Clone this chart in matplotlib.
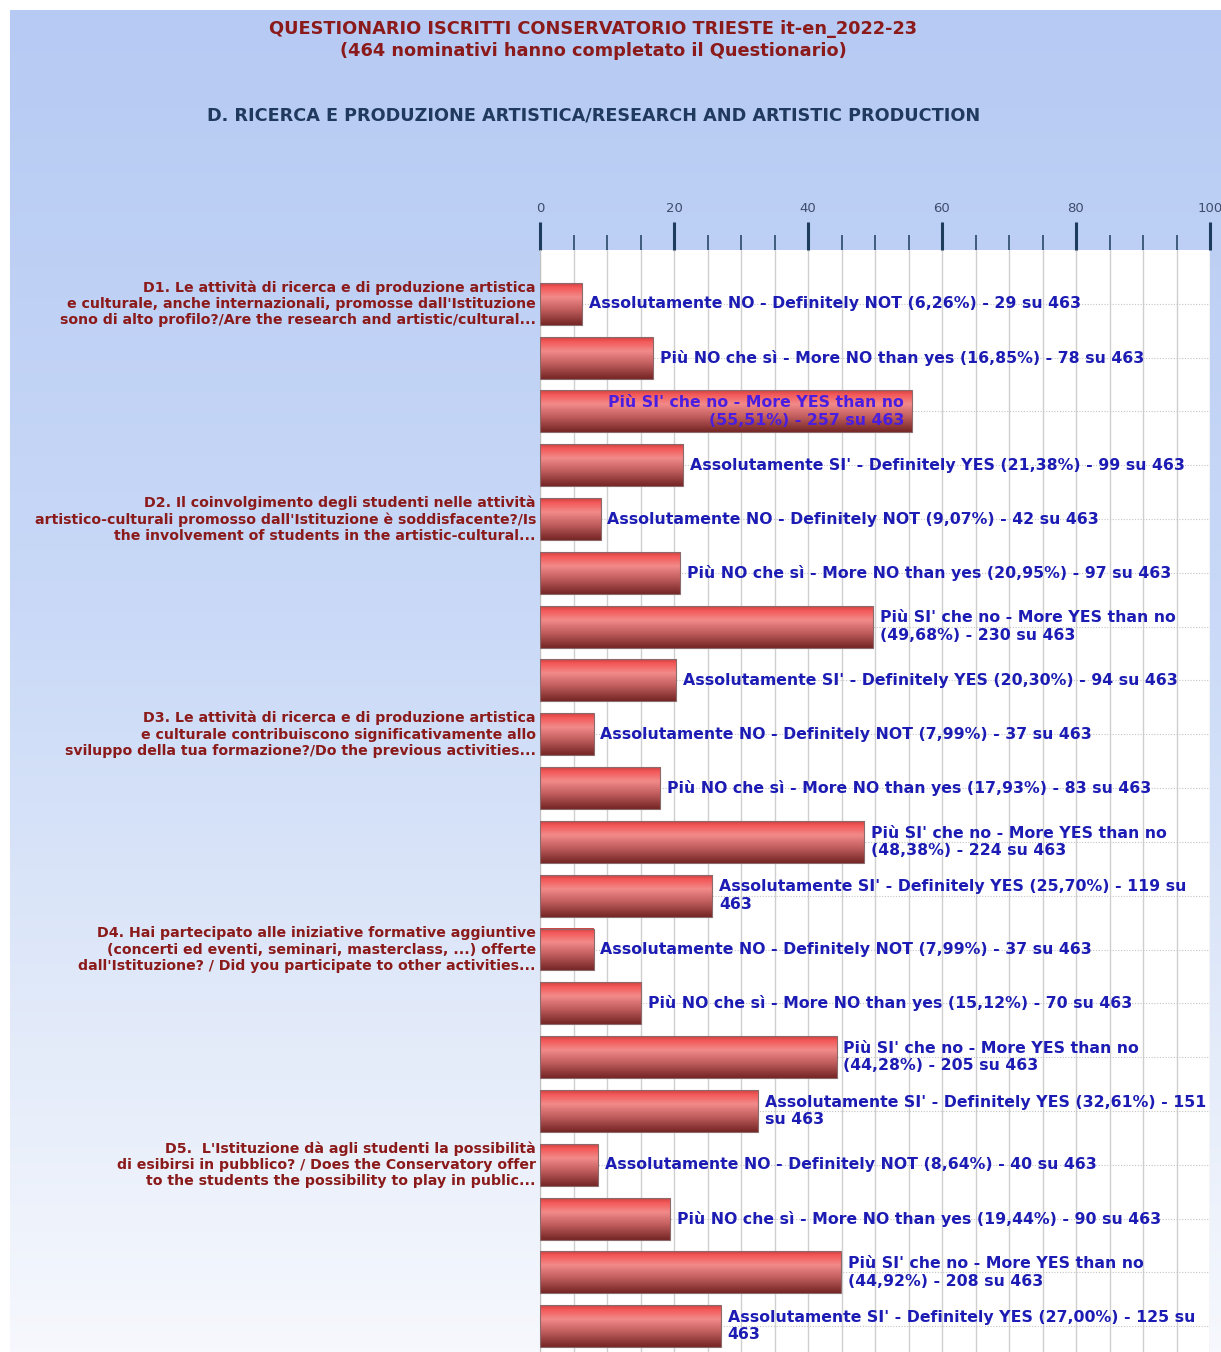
import numpy as np
import matplotlib
matplotlib.use("Agg")
import matplotlib.pyplot as plt
from matplotlib.colors import LinearSegmentedColormap

# ---- data ----
answers = [
    "Assolutamente NO - Definitely NOT",
    "Più NO che sì - More NO than yes",
    "Più SI' che no - More YES than no",
    "Assolutamente SI' - Definitely YES",
]
questions = [
    "D1. Le attività di ricerca e di produzione artistica\ne culturale, anche internazionali, promosse dall'Istituzione\nsono di alto profilo?/Are the research and artistic/cultural...",
    "D2. Il coinvolgimento degli studenti nelle attività\nartistico-culturali promosso dall'Istituzione è soddisfacente?/Is\nthe involvement of students in the artistic-cultural...",
    "D3. Le attività di ricerca e di produzione artistica\ne culturale contribuiscono significativamente allo\nsviluppo della tua formazione?/Do the previous activities...",
    "D4. Hai partecipato alle iniziative formative aggiuntive\n(concerti ed eventi, seminari, masterclass, ...) offerte\ndall'Istituzione? / Did you participate to other activities...",
    "D5.  L'Istituzione dà agli studenti la possibilità\ndi esibirsi in pubblico? / Does the Conservatory offer\nto the students the possibility to play in public...",
]
percent = [
    6.26, 16.85, 55.51, 21.38,
    9.07, 20.95, 49.68, 20.30,
    7.99, 17.93, 48.38, 25.70,
    7.99, 15.12, 44.28, 32.61,
    8.64, 19.44, 44.92, 27.00,
]
counts = [
    29, 78, 257, 99,
    42, 97, 230, 94,
    37, 83, 224, 119,
    37, 70, 205, 151,
    40, 90, 208, 125,
]
total = 463
# words pushed to a second line by the original renderer
tail_words = [0, 0, 5, 0, 0, 0, 5, 0, 0, 0, 5, 1, 0, 0, 5, 2, 0, 0, 5, 1]

title1 = "QUESTIONARIO ISCRITTI CONSERVATORIO TRIESTE it-en_2022-23"
title2 = "(464 nominativi hanno completato il Questionario)"
subtitle = "D. RICERCA E PRODUZIONE ARTISTICA/RESEARCH AND ARTISTIC PRODUCTION"

W, H = 1221, 1352
fig = plt.figure(figsize=(W / 100, H / 100), dpi=100)
fig.patch.set_facecolor("white")

# background panel with vertical gradient
bg = fig.add_axes([10 / W, 0, 1 - 10 / W, 1 - 10 / H])
bg.set_axis_off()
grad_cmap = LinearSegmentedColormap.from_list(
    "bg", [(0, "#b6caf3"), (0.45, "#c9d9f7"), (0.8, "#e6edfa"), (1, "#f6f8fd")])
bg.imshow(np.linspace(0, 1, 256).reshape(-1, 1), aspect="auto", cmap=grad_cmap,
          extent=(0, 1, 0, 1))
bg.set_xlim(0, 1)
bg.set_ylim(0, 1)

fig.text(593 / W, 1 - 29 / H, title1, ha="center", va="center",
         color="#8b1a1a", fontsize=12.8, fontweight="bold")
fig.text(593 / W, 1 - 51 / H, title2, ha="center", va="center",
         color="#8b1a1a", fontsize=12.8, fontweight="bold")
fig.text(594 / W, 1 - 116 / H, subtitle, ha="center", va="center",
         color="#1f3a5c", fontsize=12.7, fontweight="bold")

# main plot
x0, x1, ytop = 540, 1210, 250
ax = fig.add_axes([x0 / W, 0, (x1 - x0) / W, 1 - ytop / H])
ax.set_facecolor("white")

n = len(percent)
ypos = np.arange(n)
bar_h = 0.78

bar_cmap = LinearSegmentedColormap.from_list(
    "bar", [(0, "#d04444"), (0.1, "#f45858"), (0.33, "#f28a8a"),
            (0.62, "#c46060"), (1, "#762626")])
grad = np.linspace(0, 1, 64).reshape(-1, 1)

for y, v in zip(ypos, percent):
    ax.imshow(grad, cmap=bar_cmap, aspect="auto", origin="upper",
              extent=(0, v, y + bar_h / 2, y - bar_h / 2), zorder=3)
ax.barh(ypos, percent, height=bar_h, fill=False, edgecolor="#8a6a6a",
        linewidth=0.8, zorder=4)

for i, (y, v, c) in enumerate(zip(ypos, percent, counts)):
    txt = f"{answers[i % 4]} ({v:.2f}%) - {c} su {total}".replace(".", ",")
    words = txt.split(" ")
    k = tail_words[i]
    if k:
        txt = " ".join(words[:-k]) + "\n" + " ".join(words[-k:])
    if v > 50:
        ax.text(v - 1.2, y, txt, ha="right", va="center", multialignment="right",
                color="#4a1ee0", fontsize=11.3, fontweight="bold",
                linespacing=1.22, zorder=5)
    else:
        ax.text(v + 1.0, y, txt, ha="left", va="center", multialignment="left",
                color="#1c1cb4", fontsize=11.3, fontweight="bold",
                linespacing=1.22, zorder=5)

for q, text in enumerate(questions):
    ax.text(-0.6, ypos[q * 4], text, ha="right", va="center",
            multialignment="right", color="#8b1a1a", fontsize=10.2,
            fontweight="bold", linespacing=1.2, clip_on=False)

ax.set_xlim(0, 100)
ax.set_ylim(n - 0.52, -1.0)
ax.set_yticks([])

ax.xaxis.tick_top()
ax.set_xticks(range(0, 101, 20))
ax.set_xticks(range(0, 101, 5), minor=True)
ax.tick_params(axis="x", which="major", length=20, width=2.2, color="#1e3d5c",
               direction="out", pad=5, labelsize=9.5, labelcolor="#3d4d6d")
ax.tick_params(axis="x", which="minor", length=11, width=1.1, color="#1e3d5c",
               direction="out")
ax.grid(axis="x", which="both", color="#cfcfcf", linewidth=1.0, zorder=0)
for y in ypos:
    ax.axhline(y, color="#c4c4c4", linewidth=0.8, linestyle=(0, (1, 1.5)), zorder=1)
ax.set_axisbelow(True)

for side in ("top", "right", "bottom"):
    ax.spines[side].set_visible(False)
ax.spines["left"].set_color("#c0c0c0")

fig.savefig("out.png", dpi=100)
